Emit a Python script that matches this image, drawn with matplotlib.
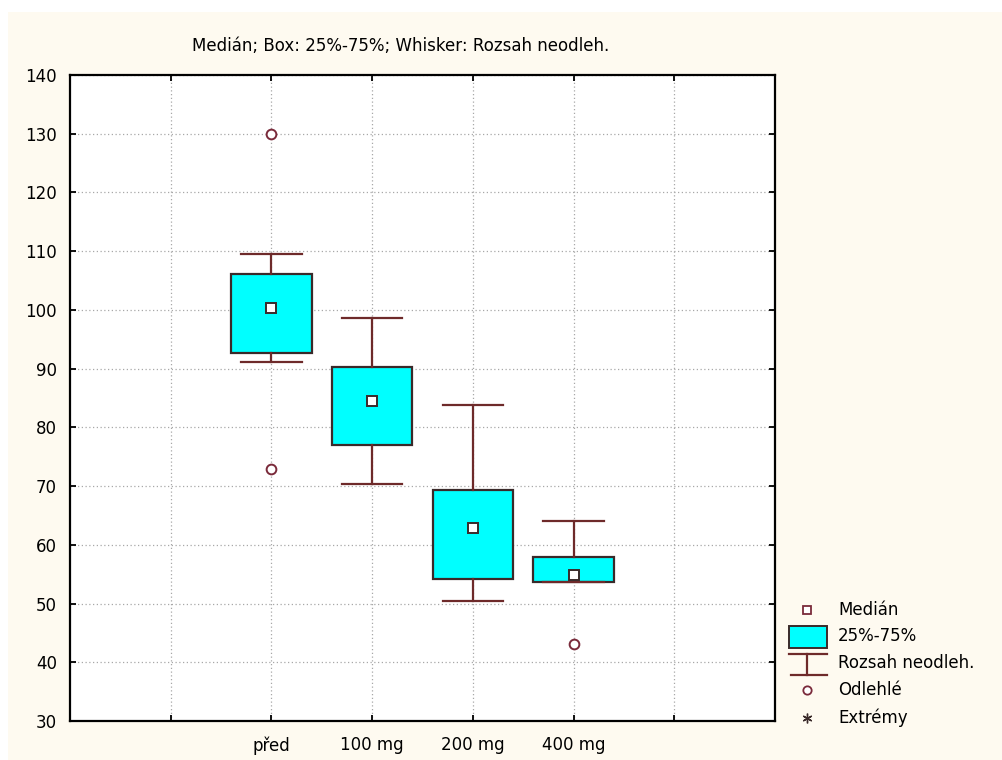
import matplotlib
matplotlib.use("Agg")
import matplotlib.pyplot as plt
from matplotlib.patches import Rectangle

# ---- data ----
categories = ["před", "100 mg", "200 mg", "400 mg"]
medians = [100.4, 84.5, 62.9, 54.8]
q1 = [92.6, 77.0, 54.1, 53.7]
q3 = [106.1, 90.2, 69.3, 58.0]
whisker_low = [91.2, 70.4, 50.5, 53.7]
whisker_high = [109.6, 98.6, 83.8, 64.0]
outliers = [[130.0, 72.9], [], [], [43.1]]
positions = [2, 3, 4, 5]
xticks = [1, 2, 3, 4, 5, 6]
xticklabels = ["", "před", "100 mg", "200 mg", "400 mg", ""]
yticks = [30, 40, 50, 60, 70, 80, 90, 100, 110, 120, 130, 140]
title = "Medián; Box: 25%-75%; Whisker: Rozsah neodleh."
legend_labels = ["Medián", "25%-75%", "Rozsah neodleh.", "Odlehlé", "Extrémy"]

W, H = 1003, 760
CREAM = "#FEFAF0"
CYAN = "#00FFFF"
WHISK = "#6E2A2A"
EDGE = "#3A2A2A"
OUT = "#7A2A3A"
FONT = "DejaVu Sans"
FS = 12

fig = plt.figure(figsize=(W / 100, H / 100), dpi=100)
fig.patch.set_facecolor("white")
fig.patches.append(Rectangle((8 / W, 0), 1 - 8 / W, 1 - 12 / H, transform=fig.transFigure,
                             facecolor=CREAM, edgecolor="none", zorder=-10))

x0, x1, yt, yb = 70, 775, 75, 721
ax = fig.add_axes([x0 / W, 1 - yb / H, (x1 - x0) / W, (yb - yt) / H])
ax.set_facecolor("white")

stats = []
for i in range(len(categories)):
    stats.append(dict(med=medians[i], q1=q1[i], q3=q3[i], whislo=whisker_low[i],
                      whishi=whisker_high[i], mean=medians[i], fliers=outliers[i], label=categories[i]))

ax.bxp(stats, positions=positions, widths=0.8, capwidths=0.6, patch_artist=True,
       showmeans=True, manage_ticks=False,
       boxprops=dict(facecolor=CYAN, edgecolor=EDGE, linewidth=1.6),
       whiskerprops=dict(color=WHISK, linewidth=1.6),
       capprops=dict(color=WHISK, linewidth=1.6),
       medianprops=dict(linewidth=0),
       meanprops=dict(marker="s", markersize=7, markerfacecolor="white",
                      markeredgecolor=EDGE, markeredgewidth=1.4),
       flierprops=dict(marker="o", markersize=7, markerfacecolor="white",
                       markeredgecolor=OUT, markeredgewidth=1.4))

ax.set_xlim(0, 7)
ax.set_ylim(30, 140)
ax.set_xticks(xticks)
ax.set_xticklabels(xticklabels, fontfamily=FONT, fontsize=FS)
ax.set_yticks(yticks)
ax.set_yticklabels([str(v) for v in yticks], fontfamily=FONT, fontsize=FS)
ax.tick_params(direction="in", length=4, width=1.3, top=True, right=True, color="black")
ax.tick_params(axis="y", pad=9.5)
ax.tick_params(axis="x", pad=11)
ax.grid(True, color="#A8A8A8", linestyle=(0, (1, 2)), linewidth=0.9)
ax.set_axisbelow(True)
for s in ax.spines.values():
    s.set_linewidth(1.6)
    s.set_color("black")

fig.text(401 / W, 1 - 46 / H, title, ha="center", va="center", fontfamily=FONT, fontsize=FS)

# ---- legend (pixel-coordinate overlay) ----
lax = fig.add_axes([0, 0, 1, 1])
lax.set_xlim(0, W)
lax.set_ylim(H, 0)
lax.axis("off")
lx, tx = 807, 838
ys = [610, 636, 663, 690, 718]
lax.plot([lx], [ys[0]], marker="s", markersize=6, markerfacecolor="white",
         markeredgecolor=OUT, markeredgewidth=1.3)
lax.add_patch(Rectangle((789, 626), 38, 22, facecolor=CYAN, edgecolor=EDGE, linewidth=1.4))
lax.plot([789, 827], [654, 654], color=WHISK, lw=1.6)
lax.plot([807, 807], [654, 675], color=WHISK, lw=1.6)
lax.plot([791, 827], [675, 675], color=WHISK, lw=1.6)
lax.plot([lx], [ys[3]], marker="o", markersize=6, markerfacecolor="white",
         markeredgecolor=OUT, markeredgewidth=1.3)
lax.plot([lx], [ys[4]], marker=(6, 2, 0), markersize=7, color=EDGE, markeredgewidth=1.0)
for y, lab in zip(ys, legend_labels):
    lax.text(tx, y, lab, ha="left", va="center", fontfamily=FONT, fontsize=FS)

fig.savefig("out.png", dpi=100, facecolor=fig.get_facecolor())
